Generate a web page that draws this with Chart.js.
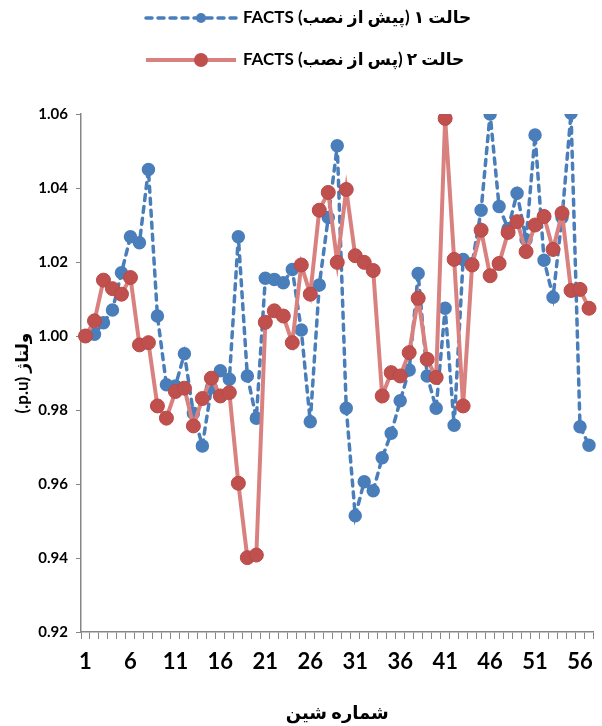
<!DOCTYPE html>
<html>
<head>
    <meta charset="utf-8">
    <title>ولتاژ شین ها</title>
    <script src="https://cdn.jsdelivr.net/npm/chart.js"></script>
    <style>
        body {
            margin: 0;
            background: white;
        }
        .container {
            width: 602px;
            height: 726px;
        }
        canvas {
            direction: rtl;
        }
    </style>
</head>
<body>
    <div class="container">
        <canvas id="voltChart"></canvas>
    </div>
    <script>
        const busLabels = ['1', '2', '3', '4', '5', '6', '7', '8', '9', '10',
            '11', '12', '13', '14', '15', '16', '17', '18', '19', '20',
            '21', '22', '23', '24', '25', '26', '27', '28', '29', '30',
            '31', '32', '33', '34', '35', '36', '37', '38', '39', '40',
            '41', '42', '43', '44', '45', '46', '47', '48', '49', '50',
            '51', '52', '53', '54', '55', '56', '57'];

        // case 1: before FACTS
        const beforeFacts = [1.000, 1.0005, 1.0036, 1.007, 1.0171, 1.0268, 1.0252, 1.045, 1.0054, 0.9868,
            0.9865, 0.9952, 0.9791, 0.9703, 0.986, 0.9906, 0.9883, 1.0268, 0.9892, 0.9778,
            1.0156, 1.0153, 1.0144, 1.018, 1.0016, 0.9768, 1.0138, 1.032, 1.0514, 0.9805,
            0.9514, 0.9606, 0.9582, 0.9671, 0.9737, 0.9825, 0.9908, 1.0169, 0.9892, 0.9805,
            1.0075, 0.9759, 1.0207, 1.0195, 1.034, 1.060, 1.035, 1.029, 1.0386, 1.026,
            1.0543, 1.0205, 1.0105, 1.032, 1.0602, 0.9755, 0.9705];

        // case 2: after FACTS
        const afterFacts = [1.000, 1.0041, 1.0151, 1.0128, 1.0113, 1.0158, 0.9976, 0.9982, 0.9811, 0.9778,
            0.985, 0.9859, 0.9757, 0.9831, 0.9886, 0.9838, 0.9847, 0.9602, 0.9401, 0.9408,
            1.0037, 1.0068, 1.0054, 0.9982, 1.0192, 1.0113, 1.034, 1.0388, 1.0199, 1.0396,
            1.0217, 1.0199, 1.0177, 0.9838, 0.9901, 0.9892, 0.9955, 1.0102, 0.9937, 0.9888,
            1.0588, 1.0207, 0.9811, 1.0192, 1.0286, 1.0163, 1.0196, 1.028, 1.0309, 1.0228,
            1.030, 1.0323, 1.0234, 1.0332, 1.0123, 1.0126, 1.0075];

        const seriesNames = ['حالت ۱ (پیش از نصب) FACTS', 'حالت ۲ (پس از نصب) FACTS'];
        const yTicks = [0.92, 0.94, 0.96, 0.98, 1.00, 1.02, 1.04, 1.06];

        const fontFamily = 'Lato, "DejaVu Sans", sans-serif';

        // legend drawn as two rows: line + marker, then the text
        const legendRows = {
            id: 'legendRows',
            afterDraw(chart) {
                const ctx = chart.ctx;
                const rowsY = [18, 60];
                chart.data.datasets.forEach((ds, i) => {
                    const y = rowsY[i];
                    ctx.save();
                    ctx.strokeStyle = ds.borderColor;
                    ctx.lineWidth = ds.borderWidth;
                    ctx.lineCap = ds.borderCapStyle || 'butt';
                    ctx.setLineDash(ds.borderDash || []);
                    ctx.beginPath();
                    ctx.moveTo(146, y);
                    ctx.lineTo(236, y);
                    ctx.stroke();
                    ctx.setLineDash([]);
                    ctx.fillStyle = ds.pointBackgroundColor;
                    ctx.beginPath();
                    ctx.arc(201, y, ds.pointRadius, 0, Math.PI * 2);
                    ctx.fill();
                    ctx.fillStyle = '#000';
                    ctx.font = 'bold 17px ' + fontFamily;
                    ctx.direction = 'rtl';
                    ctx.textAlign = 'left';
                    ctx.textBaseline = 'middle';
                    ctx.fillText(ds.label, 243, y);
                    ctx.restore();
                });
            }
        };

        const ctx = document.getElementById('voltChart').getContext('2d');
        new Chart(ctx, {
            type: 'line',
            data: {
                labels: busLabels,
                datasets: [{
                    label: seriesNames[0],
                    data: beforeFacts,
                    borderColor: '#4A7EBB',
                    borderWidth: 3.5,
                    borderDash: [6, 6],
                    borderCapStyle: 'round',
                    pointRadius: 5,
                    pointBackgroundColor: '#4A7EBB',
                    pointBorderColor: '#4A7EBB',
                    tension: 0,
                    order: 1
                }, {
                    label: seriesNames[1],
                    data: afterFacts,
                    borderColor: '#D8817F',
                    borderWidth: 4,
                    pointRadius: 7,
                    pointBackgroundColor: '#C0504D',
                    pointBorderColor: '#B84A47',
                    pointBorderWidth: 1,
                    tension: 0,
                    order: 0
                }]
            },
            options: {
                responsive: true,
                maintainAspectRatio: false,
                animation: false,
                layout: {
                    padding: { top: 114, right: 8, left: 0, bottom: 0 }
                },
                plugins: {
                    legend: { display: false },
                    tooltip: { enabled: false }
                },
                scales: {
                    x: {
                        offset: true,
                        afterFit: (scale) => { scale.height = 94; },
                        border: { color: '#868686', width: 1.5 },
                        grid: {
                            offset: true,
                            drawOnChartArea: false,
                            tickLength: 7,
                            color: '#868686'
                        },
                        ticks: {
                            autoSkip: false,
                            maxRotation: 0,
                            padding: 10,
                            color: '#000',
                            font: { family: fontFamily, size: 22, weight: 'bold' },
                            callback: (v, i) => (i % 5 === 0 ? busLabels[i] : '')
                        },
                        title: {
                            display: true,
                            text: 'شماره شین',
                            color: '#000',
                            font: { family: fontFamily, size: 18, weight: 'bold' },
                            padding: { top: 0, bottom: 2 }
                        }
                    },
                    y: {
                        min: yTicks[0],
                        max: yTicks[yTicks.length - 1],
                        afterFit: (scale) => { scale.width = 81; },
                        afterBuildTicks: (scale) => {
                            scale.ticks = yTicks.map(v => ({ value: v }));
                        },
                        border: { color: '#868686', width: 1.5 },
                        grid: {
                            drawOnChartArea: false,
                            tickLength: 5,
                            color: '#868686'
                        },
                        ticks: {
                            padding: 8,
                            color: '#000',
                            font: { family: fontFamily, size: 15, weight: 'bold' },
                            callback: (v) => v.toFixed(2)
                        },
                        title: {
                            display: true,
                            text: 'ولتاژ (p.u.)',
                            color: '#000',
                            font: { family: fontFamily, size: 17, weight: 'bold' },
                            padding: { top: 12, bottom: 0 }
                        }
                    }
                }
            },
            plugins: [legendRows]
        });
    </script>
</body>
</html>
